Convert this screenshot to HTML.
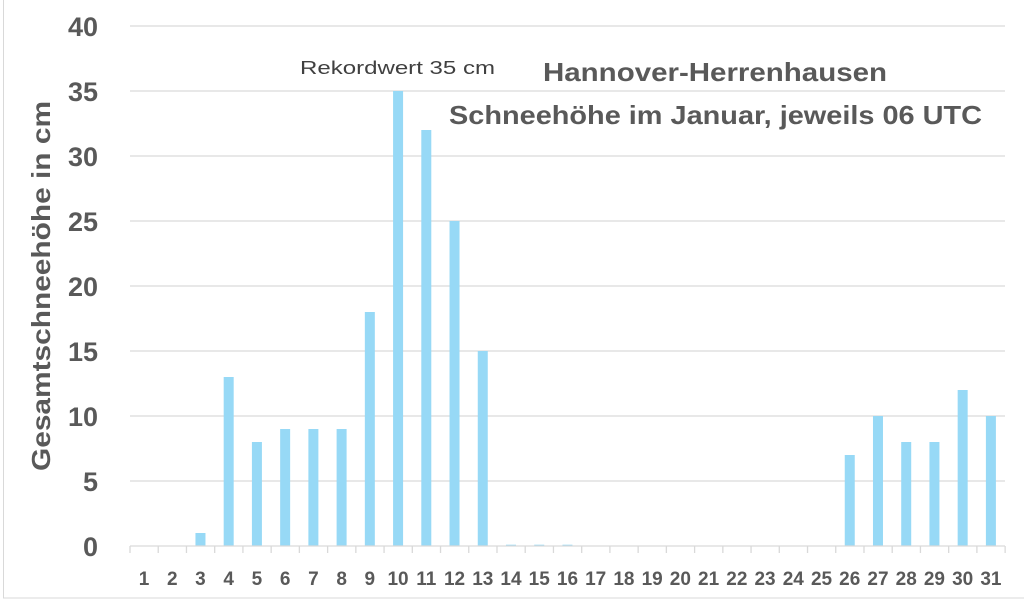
<!DOCTYPE html>
<html><head><meta charset="utf-8"><style>
body{margin:0;background:#fff}
</style></head><body>
<svg width="1024" height="602" xmlns="http://www.w3.org/2000/svg" font-family="Liberation Sans, sans-serif">
<rect x="0" y="0" width="1024" height="602" fill="#fff"/>
<rect x="3.5" y="-2" width="1030" height="600" fill="none" stroke="#d9d9d9" stroke-width="1"/>
<g stroke="#d9d9d9" stroke-width="1.3">
<line x1="130" x2="1005" y1="26" y2="26"/>
<line x1="130" x2="1005" y1="91" y2="91"/>
<line x1="130" x2="1005" y1="156" y2="156"/>
<line x1="130" x2="1005" y1="221" y2="221"/>
<line x1="130" x2="1005" y1="286" y2="286"/>
<line x1="130" x2="1005" y1="351" y2="351"/>
<line x1="130" x2="1005" y1="416" y2="416"/>
<line x1="130" x2="1005" y1="481" y2="481"/>
</g>
<g fill="#595959" font-weight="bold" font-size="27" text-anchor="end">
<text x="98" y="36">40</text><text x="98" y="101">35</text><text x="98" y="166">30</text>
<text x="98" y="231">25</text><text x="98" y="296">20</text><text x="98" y="361">15</text>
<text x="98" y="426">10</text><text x="98" y="491">5</text><text x="98" y="556">0</text>
</g>
<text transform="translate(50,286) rotate(-90)" fill="#595959" font-weight="bold" font-size="26" text-anchor="middle" textLength="370" lengthAdjust="spacingAndGlyphs">Gesamtschneehöhe in cm</text>
<g id="bars" fill="#97d9f6"></g>
<g id="ticks" stroke="#d9d9d9" stroke-width="1.3"><line x1="130" x2="1005" y1="546" y2="546"/></g>
<g id="labs" fill="#595959" font-weight="bold" font-size="19" text-anchor="middle"></g>
<text x="300" y="74" fill="#404040" font-size="18" textLength="195" lengthAdjust="spacingAndGlyphs">Rekordwert 35 cm</text>
<text x="543" y="81" fill="#595959" font-weight="bold" font-size="26" textLength="344" lengthAdjust="spacingAndGlyphs">Hannover-Herrenhausen</text>
<text x="449" y="124" fill="#595959" font-weight="bold" font-size="26" textLength="533" lengthAdjust="spacingAndGlyphs">Schneehöhe im Januar, jeweils 06 UTC</text>
<script>
var v=[0,0,1,13,8,9,9,9,18,35,32,25,15,0.1,0.1,0.1,0,0,0,0,0,0,0,0,0,7,10,8,8,12,10];
var b=document.getElementById('bars'),t=document.getElementById('ticks'),l=document.getElementById('labs'),ns='http://www.w3.org/2000/svg';
for(var i=0;i<31;i++){var c=144+i*28.23;
if(v[i]>0){var r=document.createElementNS(ns,'rect');r.setAttribute('x',c-5);r.setAttribute('width',10);r.setAttribute('y',546-v[i]*13);r.setAttribute('height',v[i]*13);b.appendChild(r);}
var tx=document.createElementNS(ns,'text');tx.setAttribute('x',c);tx.setAttribute('y',585);tx.textContent=i+1;l.appendChild(tx);}
for(var i=0;i<=31;i++){var x=130+i*28.23;var ln=document.createElementNS(ns,'line');ln.setAttribute('x1',x);ln.setAttribute('x2',x);ln.setAttribute('y1',546);ln.setAttribute('y2',553);t.appendChild(ln);}
</script>
</svg>
</body></html>
